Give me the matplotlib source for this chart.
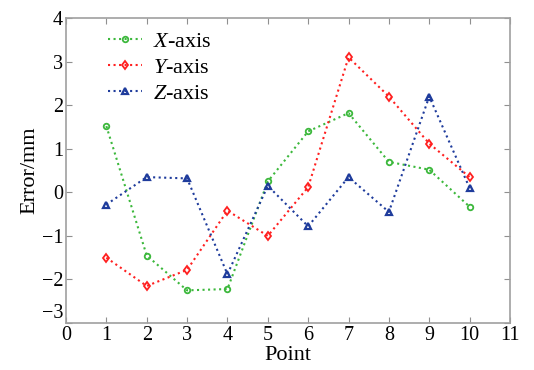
import numpy as np
import matplotlib
matplotlib.use("Agg")
import matplotlib.pyplot as plt

points = np.arange(1, 11)
x_err = [1.52, -1.45, -2.25, -2.22, 0.25, 1.40, 1.82, 0.70, 0.52, -0.33]
y_err = [-1.50, -2.15, -1.78, -0.42, -1.00, 0.12, 3.10, 2.20, 1.12, 0.35]
z_err = [-0.28, 0.35, 0.32, -1.88, 0.15, -0.78, 0.35, -0.45, 2.20, 0.10]

plt.rcParams["font.family"] = ["Liberation Serif", "DejaVu Serif"]
plt.rcParams["mathtext.fontset"] = "custom"
plt.rcParams["mathtext.it"] = "Liberation Serif:italic"
plt.rcParams["mathtext.rm"] = "Liberation Serif"

fig = plt.figure(figsize=(5.34, 3.7), dpi=100)
ax = fig.add_axes([0.1236, 0.127, 0.8314, 0.824])

ax.plot(points, x_err, ls=":", lw=1.5, color="#3cb83c", marker="o", ms=4,
        mfc="none", mew=1.3, label="$X$-axis")
ax.plot(points, y_err, ls=":", lw=1.5, color="#ff2020", marker="d", ms=4.5,
        mfc="none", mew=1.3, label="$Y$-axis")
ax.plot(points, z_err, ls=":", lw=1.5, color="#1f3c9c", marker="^", ms=5,
        mfc="none", mew=1.6, label="$Z$-axis")

ax.set_xlim(0, 11)
ax.set_ylim(-3, 4)
ax.set_xticks(range(0, 12))
ax.set_yticks(range(-3, 5))
ax.tick_params(direction="in", top=True, right=True, labelsize=14.5,
               color="#909090", length=4, pad=2)
for s in ax.spines.values():
    s.set_color("#a0a0a0")
    s.set_linewidth(1.2)

# lift the bottom y label clear of the x "0", as in the original
ax.get_yticklabels()[0].set_verticalalignment("bottom")

ax.set_xlabel("Point", fontsize=16, labelpad=1)
ax.set_ylabel("Error/mm", fontsize=16, labelpad=2)

ax.legend(loc="upper left", frameon=False, fontsize=16, handlelength=1.5,
          handletextpad=0.5, borderaxespad=0.2, labelspacing=0.25,
          bbox_to_anchor=(0.065, 1.0))

fig.savefig("out.png", dpi=100)
